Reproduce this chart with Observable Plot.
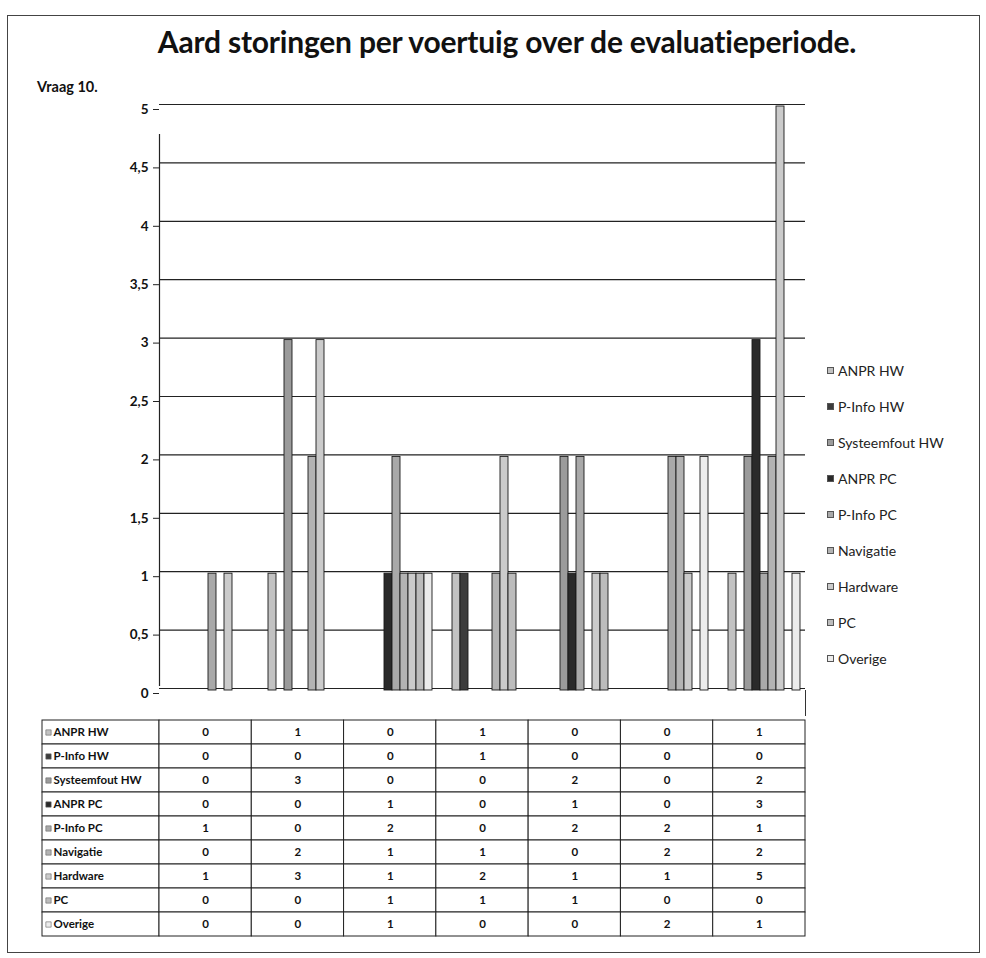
<!DOCTYPE html>
<html>
<head>
<meta charset="utf-8">
<script src="https://cdn.jsdelivr.net/npm/d3@7"></script>
<script src="https://cdn.jsdelivr.net/npm/@observablehq/plot@0.6"></script>
<style>
  body { margin: 0; background: #fff; font-family: Lato, "DejaVu Sans", sans-serif; color: #111; }
  #page { position: relative; width: 986px; height: 958px; overflow: hidden; background: #fff; }
  #frame { position: absolute; left: 7px; top: 15px; width: 973px; height: 938px; border: 1px solid #444; box-sizing: border-box; }
  #title { position: absolute; left: 0; width: 1014px; top: 23px; text-align: center; font-weight: 700; font-size: 30px; line-height: 36px; color: #111; letter-spacing: -0.2px; }
  #sub { position: absolute; left: 37px; top: 78px; font-weight: 700; font-size: 14.5px; color: #111; }
  .layer { position: absolute; left: 0; }
  #legend { position: absolute; left: 827px; top: 361px; font-size: 14px; color: #222; }
  #legend .item { height: 36px; line-height: 20px; display: flex; align-items: flex-start; }
  #legend .sw { width: 7px; height: 7px; border: 1px solid #555; margin: 6px 4px 0 0; box-sizing: border-box; }
</style>
</head>
<body>
<div id="page">
  <div id="frame"></div>
  <div id="title">Aard storingen per voertuig over de evaluatieperiode.</div>
  <div id="sub">Vraag 10.</div>
  <div id="back" class="layer" style="top:0"></div>
  <div id="bars" class="layer" style="top:0"></div>
  <div id="table" class="layer" style="top:718px"></div>
  <div id="legend"></div>
</div>
<script>
// Vehicles (columns of the data table) and failure categories (series)
const vehicles = ["1", "2", "3", "4", "5", "6", "7"];
const categories = ["ANPR HW", "P-Info HW", "Systeemfout HW", "ANPR PC", "P-Info PC", "Navigatie", "Hardware", "PC", "Overige"];

// Number of failures per vehicle, one array per category
const anprHW        = [0, 1, 0, 1, 0, 0, 1];
const pInfoHW       = [0, 0, 0, 1, 0, 0, 0];
const systeemfoutHW = [0, 3, 0, 0, 2, 0, 2];
const anprPC        = [0, 0, 1, 0, 1, 0, 3];
const pInfoPC       = [1, 0, 2, 0, 2, 2, 1];
const navigatie     = [0, 2, 1, 1, 0, 2, 2];
const hardware      = [1, 3, 1, 2, 1, 1, 5];
const pc            = [0, 0, 1, 1, 1, 0, 0];
const overige       = [0, 0, 1, 0, 0, 2, 1];

// Value axis ticks
const yTicks = [0, 0.5, 1, 1.5, 2, 2.5, 3, 3.5, 4, 4.5, 5];

// Grey shades per category
const shades = ["#c2c2c2", "#3c3c3c", "#9b9b9b", "#2a2a2a", "#a9a9a9", "#b3b3b3", "#cbcbcb", "#bcbcbc", "#ececec"];

const seriesValues = [anprHW, pInfoHW, systeemfoutHW, anprPC, pInfoPC, navigatie, hardware, pc, overige];
const rows = [];
categories.forEach((c, si) => {
  vehicles.forEach((v, vi) => rows.push({series: c, vehicle: v, col: vi, value: seriesValues[si][vi]}));
});

const W = 986, H = 740;
const ML = 159, MR = 181, MT = 106, MB = 50;
const comma = d => String(d).replace(".", ",");
const font = {fontFamily: "Lato, sans-serif", background: "transparent", overflow: "visible"};

// Back layer: gridlines, value axis and left wall
const back = Plot.plot({
  width: W, height: H,
  marginLeft: ML, marginRight: MR, marginTop: MT, marginBottom: MB,
  style: font,
  x: {domain: [0, 1], axis: null},
  y: {domain: [0, 5], axis: null},
  marks: [
    Plot.ruleY(yTicks, {stroke: "#222", strokeWidth: 1.2, dy: -2}),
    Plot.ruleX([0], {y1: 0, y2: 5, insetTop: -4, insetBottom: -28, stroke: "#222", strokeWidth: 1.2}),
    Plot.ruleX([1], {y1: 0, y2: 0, insetBottom: -26, stroke: "#333"}),
    Plot.axisY(yTicks, {
      anchor: "left", tickSize: 6, tickPadding: 5, tickFormat: comma,
      fontSize: 13.5, fontWeight: "bold", dy: 3, stroke: "#222"
    })
  ]
});
document.getElementById("back").append(back);

// Bars: one facet per vehicle, one bar per category
const bars = Plot.plot({
  width: W, height: H,
  marginLeft: ML, marginRight: MR, marginTop: MT, marginBottom: MB,
  style: font,
  fx: {domain: vehicles, paddingInner: 0.163, paddingOuter: 0.0815, align: 0.8, axis: null, label: null},
  x: {domain: categories, padding: 0.06, axis: null},
  y: {domain: [0, 5], axis: null},
  color: {domain: categories, range: shades},
  marks: [
    Plot.barY(rows.filter(d => d.value > 0), {
      fx: "vehicle", x: "series", y: "value", fill: "series",
      stroke: "#1a1a1a", strokeWidth: 0.9
    })
  ]
});
document.getElementById("bars").append(bars);

// Data table under the chart
const colStep = (W - ML - MR) / vehicles.length;
const labelW = (ML - 42) / colStep;
const table = Plot.plot({
  width: W, height: 222,
  marginLeft: 42, marginRight: MR, marginTop: 1, marginBottom: 3,
  style: font,
  x: {domain: [-labelW, vehicles.length], axis: null},
  y: {domain: categories, padding: 0, axis: null},
  color: {domain: categories, range: shades},
  marks: [
    Plot.barX(categories, {x1: -labelW, x2: 0, y: d => d, fill: "white", stroke: "#222", strokeWidth: 1}),
    Plot.barX(rows, {x1: d => d.col, x2: d => d.col + 1, y: "series", fill: "white", stroke: "#222", strokeWidth: 1}),
    Plot.dot(categories, {x: -labelW, y: d => d, dx: 6, symbol: "square", r: 3, fill: d => d, stroke: "#666", strokeWidth: 0.6}),
    Plot.text(categories, {x: -labelW, y: d => d, text: d => d, dx: 11, textAnchor: "start", fontSize: 11.5, fontWeight: "bold", fill: "#111"}),
    Plot.text(rows, {x: d => d.col + 0.5, y: "series", text: d => String(d.value), fontSize: 11.5, fontWeight: "bold", fill: "#111"})
  ]
});
document.getElementById("table").append(table);

// Legend on the right
const legend = document.getElementById("legend");
categories.forEach((c, i) => {
  const item = document.createElement("div");
  item.className = "item";
  const sw = document.createElement("span");
  sw.className = "sw";
  sw.style.background = shades[i];
  const t = document.createElement("span");
  t.textContent = c;
  item.append(sw, t);
  legend.append(item);
});
</script>
</body>
</html>
